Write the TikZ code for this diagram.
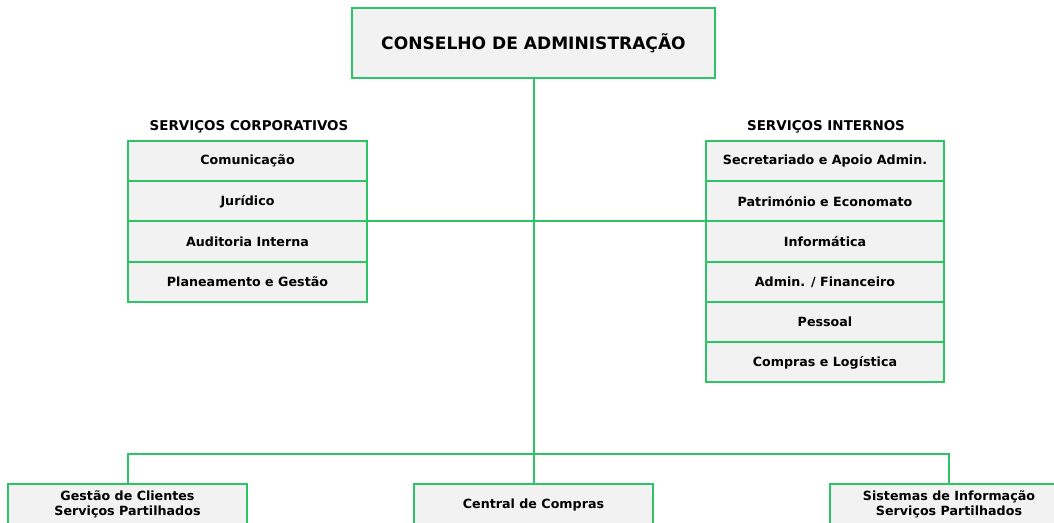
\documentclass[tikz,border=0pt]{standalone}
\usepackage{fontspec}
\setmainfont{DejaVu Sans}
\usepackage{tikz}
\usetikzlibrary{positioning}

\definecolor{orggreen}{RGB}{45,196,104}
\definecolor{orggray}{RGB}{242,242,242}

\tikzset{
  orgline/.style={draw=orggreen, line width=1.5pt},
  orgbox/.style={orgline, fill=orggray, inner sep=0pt, outer sep=0pt,
    align=center, font=\bfseries\fontsize{9.5}{11.5}\selectfont},
  orgrow/.style={orgbox, minimum width=179pt, minimum height=30.2pt},
  orghead/.style={inner sep=0pt, font=\bfseries\fontsize{10.1}{12}\selectfont}
}

\begin{document}
\begin{tikzpicture}[x=0.75pt, y=-0.75pt]

        \clip (0,0) rectangle (1054,522);

        %Conselho
        \node [orgbox, minimum width=272pt, minimum height=52.5pt,
          font=\bfseries\fontsize{12.8}{15}\selectfont] (conselho) at (533.5,43) {CONSELHO DE ADMINISTRAÇÃO};

        %Servicos corporativos
        \node [orghead] (corphead) at (249,127) {SERVIÇOS CORPORATIVOS};
        \node [orgrow] (com) at (247.5,161) {Comunicação};
        \node [orgrow, below=0pt of com] (jur) {Jurídico};
        \node [orgrow, below=0pt of jur] (aud) {Auditoria Interna};
        \node [orgrow, below=0pt of aud] (plan) {Planeamento e Gestão};

        %Servicos internos
        \node [orghead] (inthead) at (826,127) {SERVIÇOS INTERNOS};
        \node [orgrow] (sec) at (825,161) {Secretariado e Apoio Admin.};
        \node [orgrow, below=0pt of sec] (pat) {Património e Economato};
        \node [orgrow, below=0pt of pat] (inf) {Informática};
        \node [orgrow, below=0pt of inf] (fin) {Admin. / Financeiro};
        \node [orgrow, below=0pt of fin] (pes) {Pessoal};
        \node [orgrow, below=0pt of pes] (log) {Compras e Logística};

        %Unidades
        \node [orgrow] (gestao) at (127.5,504.5) {Gestão de Clientes\\Serviços Partilhados};
        \node [orgrow] (central) at (533.5,504.5) {Central de Compras};
        \node [orgrow] (sistemas) at (949,504.5) {Sistemas de Informação\\Serviços Partilhados};

        %Lines
        \coordinate (bus) at (533.5,454);
        \draw [orgline] (conselho.south) -- (central.north);
        \draw [orgline] (jur.south east) -- (pat.south west);
        \draw [orgline] (gestao.north) |- (bus) -| (sistemas.north);

\end{tikzpicture}
\end{document}
